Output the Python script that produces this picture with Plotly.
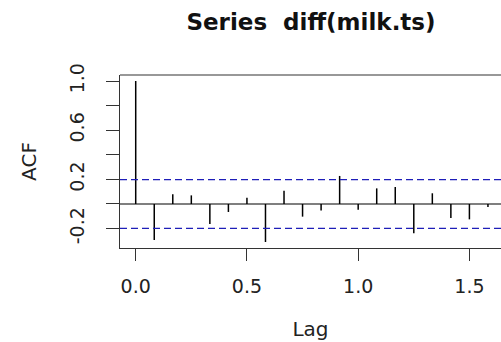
import plotly.graph_objects as go

# Sample autocorrelations of the differenced monthly milk series (lags in years)
lag_index = list(range(20))
acf_values = [1.0, -0.293, 0.079, 0.070, -0.163, -0.065, 0.051, -0.309, 0.108,
              -0.103, -0.054, 0.228, -0.046, 0.127, 0.138, -0.238, 0.087,
              -0.114, -0.125, -0.024]
frequency = 12
conf_limit = 0.198

x_ticks = [0.0, 0.5, 1.0, 1.5]
x_tick_labels = ["0.0", "0.5", "1.0", "1.5"]
y_ticks = [-0.2, 0.0, 0.2, 0.4, 0.6, 0.8, 1.0]
y_tick_labels = ["-0.2", "", "0.2", "", "0.6", "", "1.0"]

lags = [k / frequency for k in lag_index]

# vertical spikes from zero to each autocorrelation
spike_x, spike_y = [], []
for lx, v in zip(lags, acf_values):
    spike_x += [lx, lx, None]
    spike_y += [0, v, None]

fig = go.Figure()
fig.add_trace(go.Scatter(x=spike_x, y=spike_y, mode="lines",
                         line=dict(color="black", width=1.5),
                         hoverinfo="skip", showlegend=False))

font_family = "DejaVu Sans"
line_col = "#333333"

fig.add_hline(y=0, line=dict(color="black", width=1.2))
for c in (conf_limit, -conf_limit):
    fig.add_hline(y=c, line=dict(color="#1e1eb8", width=1.3, dash="7px,4px"))

# top edge of the plot frame
fig.add_shape(type="line", xref="paper", yref="paper", x0=0, x1=1, y0=1, y1=1,
              line=dict(color=line_col, width=1.2))

fig.update_layout(
    width=501, height=342,
    margin=dict(l=120, r=0, t=75, b=94),
    paper_bgcolor="white", plot_bgcolor="white",
    font=dict(family=font_family, color="#222222"),
    title=dict(text="<b>Series  diff(milk.ts)</b>", x=311 / 501, xanchor="center",
               y=1 - 22 / 342, yanchor="middle",
               font=dict(family=font_family, size=23, color="#111111")),
    xaxis=dict(range=[-0.0706, 1.642], tickvals=x_ticks, ticktext=x_tick_labels,
               showgrid=False, zeroline=False, showline=True, linecolor=line_col,
               linewidth=1.2, ticks="outside", ticklen=12, tickcolor=line_col,
               tickwidth=1.2, tickfont=dict(size=19), ticklabelstandoff=9,
               title=dict(text="Lag", font=dict(size=20), standoff=26)),
    yaxis=dict(range=[-0.358, 1.049], tickvals=y_ticks, ticktext=y_tick_labels,
               showgrid=False, zeroline=False, showline=True, linecolor=line_col,
               linewidth=1.2, ticks="outside", ticklen=13, tickcolor=line_col,
               tickwidth=1.2, tickangle=-90, tickfont=dict(size=19),
               ticklabelstandoff=14,
               title=dict(text="ACF", font=dict(size=20), standoff=24)),
)

fig.write_html("out.html")
